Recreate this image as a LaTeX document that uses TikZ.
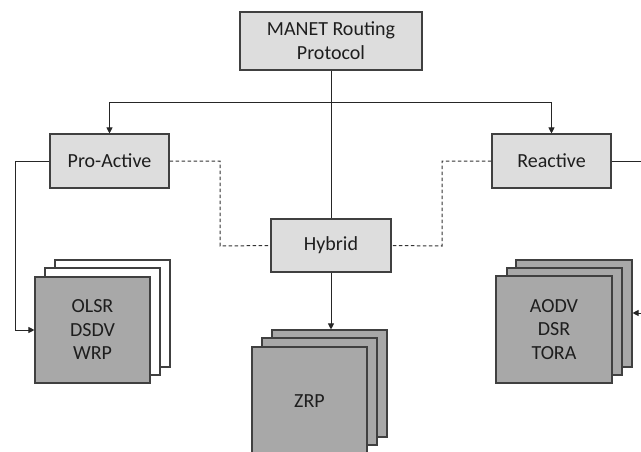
\documentclass[tikz,border=0pt]{standalone}
\usepackage{fontspec}
\setmainfont{Carlito}
\usetikzlibrary{arrows.meta,positioning}
\definecolor{lightbox}{HTML}{DDDDDD}
\definecolor{darkbox}{HTML}{A8A8A8}
\definecolor{edge}{HTML}{404040}
\definecolor{txt}{HTML}{1E1E1E}
\tikzset{
  topbox/.style={draw=edge, line width=1.1pt, fill=lightbox, inner sep=0pt, align=center, text=txt, font=\fontsize{20}{24}\selectfont},
  stackbox/.style={draw=edge, line width=1.1pt, fill=darkbox, inner sep=0pt, align=center, text=txt, font=\fontsize{20}{23.5}\selectfont},
  whitebox/.style={draw=edge, line width=1.1pt, fill=white, inner sep=0pt},
  conn/.style={draw=black!85, line width=0.9pt},
  dconn/.style={draw=black!80, line width=1pt, dash pattern=on 3.5pt off 2.5pt},
  arr/.style={-{Triangle[length=6pt,width=6pt]}}
}
\begin{document}
\begin{tikzpicture}[x=1pt,y=-1pt]
\useasboundingbox (0,0) rectangle (641,451);
\begin{scope}
\clip (0,0) rectangle (641,451);
% top boxes
\node[topbox, minimum width=182pt, minimum height=58pt] (manet) at (331,41) {MANET Routing\\Protocol};
\node[topbox, minimum width=119pt, minimum height=54pt] (pro) at (109.5,161) {Pro-Active};
\node[topbox, minimum width=119pt, minimum height=54pt] (rea) at (551.5,161) {Reactive};
\node[topbox, minimum width=120pt, minimum height=53pt] (hyb) at (331,245.5) {Hybrid};
% OLSR stack
\node[whitebox, minimum width=115pt, minimum height=107pt] (olsr3) at (112.5,313.5) {};
\node[whitebox, minimum width=115pt, minimum height=107pt] (olsr2) at (102.5,321.5) {};
\node[stackbox, minimum width=115pt, minimum height=106pt] (olsr) at (92.5,330) {OLSR\\DSDV\\WRP};
% AODV stack
\node[stackbox, minimum width=116pt, minimum height=107pt] (aodv3) at (574,313.5) {};
\node[stackbox, minimum width=115pt, minimum height=107pt] (aodv2) at (564.5,321.5) {};
\node[stackbox, minimum width=116pt, minimum height=107pt] (aodv) at (554,329.5) {AODV\\DSR\\TORA};
% ZRP stack
\node[stackbox, minimum width=115pt, minimum height=107pt] (zrp3) at (329.5,383.5) {};
\node[stackbox, minimum width=115pt, minimum height=107pt] (zrp2) at (319.5,391.5) {};
\node[stackbox, minimum width=115pt, minimum height=108pt] (zrp) at (309.5,401) {ZRP};
% connectors
\coordinate (split) at (331,102);
\coordinate (lbend1) at (15,161);
\coordinate (lbend2) at (15,330);
\coordinate (redge) at (641,161);
\coordinate (redge2) at (641,313);
\draw[conn] (manet.south) -- (hyb.north);
\draw[conn, arr] (split) -| (pro.north);
\draw[conn, arr] (split) -| (rea.north);
\draw[conn, arr] (hyb.south) -- (zrp3.north -| hyb.south);
\draw[conn, arr] (pro.west) -- (lbend1) -- (lbend2) -- (olsr.west);
\draw[conn] (rea.east) -- (redge);
\draw[conn, arr] (redge2) -- (aodv3.east |- redge2);
\draw[dconn] (pro.east) -- (220,161) -- (220,246) -- (hyb.west);
\draw[dconn] (rea.west) -- (442,161) -- (442,246) -- (hyb.east);
\end{scope}
\end{tikzpicture}
\end{document}
